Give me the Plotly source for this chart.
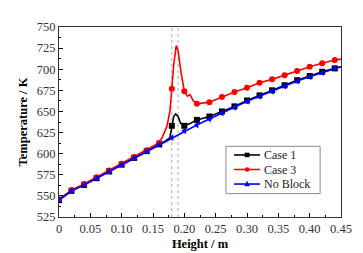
import plotly.graph_objects as go

# ---- data ----
x_noblock = [0, 0.02, 0.04, 0.06, 0.08, 0.10, 0.12, 0.14, 0.16, 0.18, 0.20, 0.22,
             0.24, 0.26, 0.28, 0.30, 0.32, 0.34, 0.36, 0.38, 0.40, 0.42, 0.44, 0.45]
t_noblock = [545, 556, 563, 571, 579, 587, 595, 603, 611, 619, 627, 634,
             641, 648, 655, 662, 668, 674, 680, 686, 691, 696, 701, 703]

x_case1 = [0, 0.02, 0.04, 0.06, 0.08, 0.10, 0.12, 0.14, 0.16, 0.17, 0.177, 0.18, 0.183,
           0.186, 0.19, 0.194, 0.20, 0.21, 0.22, 0.24, 0.26, 0.28, 0.30, 0.32, 0.34,
           0.36, 0.38, 0.40, 0.42, 0.44, 0.45]
t_case1 = [545, 556, 563, 571, 579, 587, 595, 603, 611, 615, 619, 633, 644,
           647, 644, 636, 633, 636, 640, 644, 650, 656, 663, 669, 675,
           681, 687, 692, 697, 701, 703]

x_case3 = [0, 0.02, 0.04, 0.06, 0.08, 0.10, 0.12, 0.14, 0.16, 0.165, 0.172, 0.177, 0.18,
           0.183, 0.187, 0.19, 0.195, 0.20, 0.205, 0.209, 0.214, 0.22, 0.24, 0.26, 0.28,
           0.30, 0.32, 0.34, 0.36, 0.38, 0.40, 0.42, 0.44, 0.45]
t_case3 = [546, 557, 564, 572, 580, 588, 596, 604, 613, 620, 632, 650, 677,
           705, 728, 722, 695, 674, 668, 670, 663, 659, 661, 667, 673,
           678, 684, 688, 693, 698, 703, 707, 711, 712]

block_edges = [0.18, 0.19]
x_ticks = [0, 0.05, 0.10, 0.15, 0.20, 0.25, 0.30, 0.35, 0.40, 0.45]
x_tick_labels = ["0", "0.05", "0.10", "0.15", "0.20", "0.25", "0.30", "0.35", "0.40", "0.45"]
y_ticks = [525, 550, 575, 600, 625, 650, 675, 700, 725, 750]

series_names = ["Case 1", "Case 3", "No Block"]
series_colors = ["#000000", "#FF0000", "#0000FF"]
series_symbols = ["square", "circle", "triangle-left"]
series_x = [x_case1, x_case3, x_noblock]
series_t = [t_case1, t_case3, t_noblock]

FONT = "Liberation Serif"

fig = go.Figure()

for xe in block_edges:
    fig.add_shape(type="line", xref="x", yref="paper", x0=xe, x1=xe, y0=0, y1=1,
                  line=dict(color="#AAAAAA", width=1, dash="dot"), layer="below")

for name, xs, ts, color, sym in zip(series_names, series_x, series_t, series_colors, series_symbols):
    fig.add_trace(go.Scatter(x=xs, y=ts, mode="lines", line=dict(color=color, width=1.6),
                             name=name, showlegend=False, hoverinfo="skip"))
    mx = [x for x in xs if abs(round(x / 0.02) * 0.02 - x) < 1e-9]
    my = [t for x, t in zip(xs, ts) if abs(round(x / 0.02) * 0.02 - x) < 1e-9]
    fig.add_trace(go.Scatter(x=mx, y=my, mode="markers", name=name,
                             marker=dict(color=color, symbol=sym, size=6),
                             showlegend=False))

# ---- compact legend box (drawn in paper coordinates) ----
lg_x0, lg_x1, lg_y0, lg_y1 = 0.592, 0.926, 0.123, 0.372
row_y = [0.3265, 0.2500, 0.1735]
ln_x0, ln_x1 = 0.621, 0.713
fig.add_shape(type="rect", xref="paper", yref="paper", x0=lg_x0, x1=lg_x1, y0=lg_y0, y1=lg_y1,
              line=dict(color="#888888", width=1), fillcolor="white", layer="above")
mk_w, mk_h = 0.0085, 0.012
for name, color, sym, ry in zip(series_names, series_colors, series_symbols, row_y):
    fig.add_shape(type="line", xref="paper", yref="paper", x0=ln_x0, x1=ln_x1, y0=ry, y1=ry,
                  line=dict(color=color, width=1.6), layer="above")
    xc = (ln_x0 + ln_x1) / 2
    if sym == "square":
        fig.add_shape(type="rect", xref="paper", yref="paper", x0=xc - mk_w, x1=xc + mk_w,
                      y0=ry - mk_h, y1=ry + mk_h, fillcolor=color, line=dict(width=0), layer="above")
    elif sym == "circle":
        fig.add_shape(type="circle", xref="paper", yref="paper", x0=xc - mk_w, x1=xc + mk_w,
                      y0=ry - mk_h, y1=ry + mk_h, fillcolor=color, line=dict(width=0), layer="above")
    else:
        fig.add_shape(type="path", xref="paper", yref="paper",
                      path=f"M {xc - mk_w*1.2} {ry - mk_h} L {xc + mk_w*1.2} {ry - mk_h} L {xc} {ry + mk_h*1.4} Z",
                      fillcolor=color, line=dict(width=0), layer="above")
    fig.add_annotation(xref="paper", yref="paper", x=0.727, y=ry, text=name, showarrow=False,
                       xanchor="left", yanchor="middle", borderpad=0, borderwidth=0,
                       font=dict(family=FONT, size=12, color="#222222"))

fig.update_layout(
    width=363, height=253,
    margin=dict(l=51, r=30, t=17, b=40),
    paper_bgcolor="white", plot_bgcolor="white",
    font=dict(family=FONT, size=12, color="black"),
    showlegend=False,
)

fig.update_xaxes(range=[0, 0.45], tickvals=x_ticks, ticktext=x_tick_labels,
                 ticks="inside", ticklen=4, tickcolor="black",
                 minor=dict(ticks="inside", ticklen=2, dtick=0.025, tickcolor="black"),
                 showline=True, linecolor="#333333", linewidth=1, mirror=True,
                 showgrid=False, zeroline=False,
                 tickfont=dict(family=FONT, size=12.5, color="#333333"),
                 title=dict(text="<b>Height / m</b>", font=dict(family=FONT, size=12.5), standoff=4))
fig.update_yaxes(range=[525, 750], tickvals=y_ticks,
                 ticks="inside", ticklen=4, tickcolor="black",
                 minor=dict(ticks="inside", ticklen=2, dtick=12.5, tickcolor="black"),
                 showline=True, linecolor="#333333", linewidth=1, mirror=True,
                 showgrid=False, zeroline=False,
                 tickfont=dict(family=FONT, size=12.5, color="#333333"),
                 title=dict(text="<b>Temperature / K</b>", font=dict(family=FONT, size=12.5), standoff=6))

fig.write_html("out.html")
